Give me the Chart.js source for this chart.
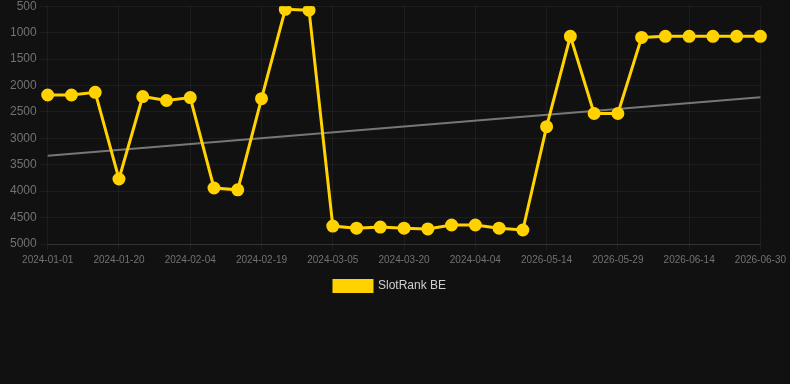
<!DOCTYPE html>
<html>
<head>
<meta charset="utf-8">
<script src="https://cdn.jsdelivr.net/npm/chart.js@4"></script>
<style>
  html, body { margin:0; padding:0; background:#111111; overflow:hidden; }
  #wrap { position:relative; width:790px; height:306px; margin-top:-4px; }
</style>
</head>
<body>
<div id="wrap"><canvas id="chart"></canvas></div>
<script>
// categories (only every 3rd one is labelled on the axis)
const dates = [
  "2024-01-01","2024-01-07","2024-01-13","2024-01-20","2024-01-25","2024-01-30",
  "2024-02-04","2024-02-09","2024-02-14","2024-02-19","2024-02-24","2024-02-29",
  "2024-03-05","2024-03-10","2024-03-15","2024-03-20","2024-03-25","2024-03-30",
  "2024-04-04","2024-04-09","2024-04-14","2026-05-14","2026-05-19","2026-05-24",
  "2026-05-29","2026-06-03","2026-06-08","2026-06-14","2026-06-19","2026-06-24",
  "2026-06-30"
];

// rank values (lower is better, axis reversed)
const rankBE = [
  2180, 2180, 2130, 3770, 2210, 2285, 2230, 3940, 3975, 2250,
  560, 575, 4660, 4700, 4680, 4700, 4715, 4640, 4640, 4700,
  4735, 2780, 1070, 2530, 2530, 1090, 1070, 1070, 1070, 1070,
  1070
];

// trend line end points
const trendFirst = 3330;
const trendLast = 2225;
const trend = dates.map((d, i) => i === 0 ? trendFirst : (i === dates.length - 1 ? trendLast : null));

const yTicks = { min: 500, max: 5000, step: 500 };

const yellow = "#ffd200";
const tickColor = "#727272";
const gridColor = "rgba(255,255,255,0.05)";
const font = "Arial, 'Liberation Sans', sans-serif";

new Chart(document.getElementById("chart").getContext("2d"), {
  type: "line",
  data: {
    labels: dates,
    datasets: [
      {
        label: "SlotRank BE", data: rankBE,
        borderColor: yellow, backgroundColor: yellow,
        borderWidth: 3, pointRadius: 5, pointHoverRadius: 6,
        pointBackgroundColor: yellow, pointBorderColor: yellow, tension: 0
      },
      {
        label: "trend", data: trend, spanGaps: true,
        borderColor: "#777777", borderWidth: 2, pointRadius: 0, tension: 0
      }
    ]
  },
  options: {
    responsive: true, maintainAspectRatio: false, animation: false,
    layout: { padding: { top: 0, left: 7, right: 17, bottom: 0 } },
    scales: {
      x: {
        offset: false,
        grid: { color: gridColor, tickLength: 6 },
        border: { color: "rgba(255,255,255,0.1)" },
        ticks: {
          color: tickColor, font: { size: 10, family: font },
          autoSkip: false, maxRotation: 0, padding: 4,
          callback: (v, i) => i % 3 === 0 ? dates[i] : null
        }
      },
      y: {
        reverse: true, min: yTicks.min, max: yTicks.max,
        grid: { color: gridColor },
        border: { display: false },
        ticks: {
          stepSize: yTicks.step, color: tickColor,
          font: { size: 12, family: font },
          callback: v => String(v)
        }
      }
    },
    plugins: {
      legend: {
        position: "bottom",
        labels: {
          color: "#d0d0d0", boxWidth: 38, boxHeight: 11,
          font: { size: 12, family: font },
          filter: item => item.text === "SlotRank BE"
        }
      },
      tooltip: { enabled: false }
    }
  }
});
</script>
</body>
</html>
